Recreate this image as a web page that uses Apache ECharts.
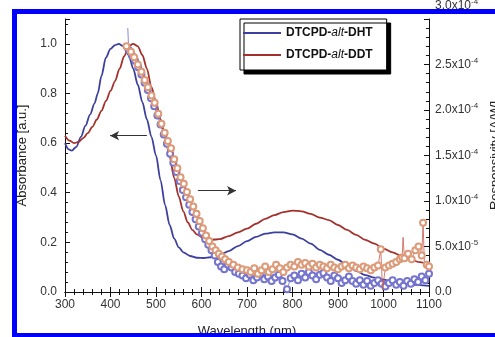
<!DOCTYPE html>
<html><head><meta charset="utf-8">
<script src="https://cdn.jsdelivr.net/npm/echarts@6/dist/echarts.min.js"></script>
<style>html,body{margin:0;padding:0;background:#fff}#c{width:495px;height:337px}</style>
</head><body><div id="c"></div>
<script>
// ---- data ----
const seriesNames = ['DTCPD-alt-DHT', 'DTCPD-alt-DDT'];
const xTickLabels = ['300','400','500','600','700','800','900','1000','1100'];
const leftTickLabels = ['0.0','0.2','0.4','0.6','0.8','1.0'];
const rightTickLabels = [['0.0',''],['5.0x10','-5'],['1.0x10','-4'],['1.5x10','-4'],['2.0x10','-4'],['2.5x10','-4'],['3.0x10','-4']];

// absorbance (normalized), [wavelength nm, value]
const absDHT = [[300,0.60],[308,0.575],[315,0.57],[325,0.585],[335,0.625],[345,0.67],[355,0.715],[365,0.76],[372,0.80],[380,0.87],[390,0.945],[400,0.98],[410,0.995],[418,1.0],[428,0.99],[440,0.955],[450,0.90],[460,0.835],[470,0.765],[480,0.695],[490,0.625],[500,0.55],[510,0.45],[520,0.35],[530,0.27],[540,0.215],[550,0.18],[560,0.16],[575,0.145],[590,0.138],[605,0.137],[620,0.14],[640,0.15],[660,0.165],[680,0.185],[700,0.205],[720,0.222],[740,0.235],[760,0.24],[780,0.24],[800,0.232],[820,0.215],[840,0.195],[860,0.17],[880,0.15],[900,0.13],[920,0.108],[940,0.085],[960,0.068],[980,0.058],[1000,0.05],[1020,0.04],[1040,0.035],[1060,0.03],[1080,0.028],[1100,0.025]];
const absDDT = [[300,0.63],[310,0.61],[320,0.60],[330,0.605],[340,0.62],[350,0.64],[360,0.665],[370,0.695],[380,0.73],[390,0.77],[400,0.81],[410,0.85],[420,0.90],[430,0.95],[440,0.99],[450,1.0],[460,0.99],[470,0.955],[480,0.90],[490,0.825],[500,0.765],[510,0.695],[520,0.625],[530,0.545],[540,0.46],[550,0.385],[560,0.325],[570,0.28],[580,0.25],[590,0.232],[605,0.216],[620,0.21],[640,0.213],[660,0.225],[680,0.24],[700,0.255],[720,0.275],[740,0.295],[760,0.31],[780,0.322],[800,0.328],[820,0.325],[840,0.315],[860,0.30],[880,0.29],[900,0.27],[920,0.25],[940,0.23],[960,0.21],[980,0.195],[1000,0.175],[1020,0.16],[1040,0.145],[1060,0.13],[1080,0.12],[1100,0.11]];

// responsivity in units of 1e-4 A/W, [wavelength nm, value, hasSymbol]
const respDHT = [[438,2.90,0],[440,2.66,1],[447,2.60,1],[454,2.54,1],[461,2.47,1],[468,2.39,1],[475,2.30,1],[482,2.22,1],[489,2.13,1],[496,2.04,1],[503,1.94,1],[510,1.84,1],[517,1.73,1],[524,1.63,1],[531,1.52,1],[538,1.42,1],[545,1.32,1],[552,1.22,1],[559,1.12,1],[566,1.04,1],[573,0.96,1],[580,0.88,1],[587,0.80,1],[594,0.72,1],[601,0.65,1],[608,0.58,1],[615,0.52,1],[622,0.46,1],[629,0.40,1],[636,0.33,1],[643,0.28,1],[650,0.25,1],[658,0.30,1],[666,0.27,1],[674,0.22,1],[682,0.20,1],[690,0.18,1],[698,0.15,1],[706,0.19,1],[714,0.13,1],[722,0.16,1],[730,0.20,1],[738,0.14,1],[746,0.17,1],[754,0.12,1],[762,0.16,1],[770,0.19,1],[778,0.12,1],[788,0.03,1],[796,0.15,1],[804,0.18,1],[812,0.13,1],[820,0.20,1],[828,0.16,1],[836,0.22,1],[844,0.18,1],[852,0.14,1],[860,0.19,1],[868,0.21,1],[876,0.16,1],[884,0.12,1],[892,0.18,1],[900,0.15,1],[908,0.10,1],[916,0.13,1],[924,0.17,1],[932,0.12,1],[940,0.09,1],[948,0.13,1],[956,0.08,1],[964,0.12,1],[972,0.07,1],[980,0.10,1],[988,0.13,1],[996,0.09,1],[1004,0.06,1],[1012,0.10,1],[1020,0.13,1],[1028,0.08,1],[1036,0.11,1],[1044,0.07,1],[1052,0.12,1],[1060,0.09,1],[1068,0.14,1],[1076,0.11,1],[1084,0.17,1],[1092,0.13,1],[1100,0.20,1]];
const respDDT = [[435,2.70,1],[445,2.64,1],[452,2.58,1],[460,2.50,1],[468,2.42,1],[475,2.33,1],[482,2.25,1],[490,2.16,1],[497,2.08,1],[505,1.96,1],[512,1.85,1],[519,1.75,1],[526,1.66,1],[533,1.58,1],[540,1.46,1],[547,1.36,1],[554,1.26,1],[561,1.19,1],[568,1.10,1],[575,1.02,1],[582,0.94,1],[589,0.86,1],[596,0.78,1],[603,0.70,1],[610,0.62,1],[617,0.56,1],[624,0.50,1],[631,0.46,1],[638,0.42,1],[645,0.39,1],[652,0.36,1],[660,0.33,1],[670,0.30,1],[680,0.27,1],[690,0.25,1],[700,0.24,1],[708,0.22,1],[716,0.26,1],[724,0.20,1],[732,0.24,1],[740,0.28,1],[748,0.22,1],[756,0.25,1],[764,0.30,1],[772,0.26,1],[780,0.22,1],[788,0.27,1],[796,0.30,1],[804,0.28,1],[812,0.33,1],[820,0.30,1],[828,0.32,1],[836,0.28,1],[844,0.31,1],[852,0.27,1],[860,0.30,1],[868,0.28,1],[876,0.26,1],[884,0.30,1],[892,0.27,1],[900,0.25,1],[908,0.28,1],[916,0.30,1],[924,0.26,1],[932,0.29,1],[940,0.27,1],[948,0.25,1],[956,0.28,1],[964,0.26,1],[972,0.24,1],[980,0.27,1],[988,0.29,1],[994,0.47,1],[998,0.02,0],[1004,0.27,1],[1012,0.29,1],[1020,0.31,1],[1028,0.33,1],[1036,0.36,1],[1041,0.38,1],[1043,0.60,0],[1046,0.37,1],[1054,0.42,1],[1062,0.36,1],[1070,0.46,1],[1077,0.50,1],[1084,0.40,1],[1087,0.76,1],[1090,0.30,0],[1095,0.30,1],[1100,0.28,1]];

// arrows in data coords: [from, to] on absorbance axis
const arrowLeft = [[480,0.63],[399,0.63]];
const arrowRight = [[592,0.408],[676,0.408]];

// ---- chart ----
const chart = echarts.init(document.getElementById('c'), null, {renderer:'canvas'});
const FONT = '"Liberation Sans", Arial, sans-serif';
const axisCol = '#111';
function pts(arr){ return arr.map(p => p[2] === 0 ? {value:[p[0],p[1]], symbol:'none'} : [p[0],p[1]]); }
const legendRich = {
  b:{fontFamily:FONT,fontWeight:'bold',fontSize:12,color:'#111'},
  i:{fontFamily:FONT,fontStyle:'italic',fontSize:12,color:'#111'}
};
const option = {
  animation:false,
  backgroundColor:'#fff',
  grid:{left:65,right:66,top:19,bottom:45,show:false,containLabel:false,outerBoundsMode:'none'},
  legend:{
    data:seriesNames, left:240, top:19, orient:'vertical', itemWidth:38, itemHeight:2, itemGap:10,
    padding:[8,14,9,3], borderColor:'#000', borderWidth:1, backgroundColor:'#fff',
    shadowColor:'#000', shadowBlur:0, shadowOffsetX:4, shadowOffsetY:4,
    icon:'rect',
    formatter: n => { const p = n.split('-'); return '{b|'+p[0]+'-}{i|'+p[1]+'}{b|-'+p[2]+'}'; },
    textStyle:{rich:legendRich}
  },
  xAxis:[{
    type:'value', min:300, max:1100, interval:100, position:'bottom',
    name:'Wavelength (nm)', nameLocation:'middle', nameGap:33,
    nameTextStyle:{fontFamily:FONT,fontSize:13,color:'#222'},
    axisLine:{lineStyle:{color:axisCol,width:1}},
    axisTick:{inside:true,length:5,lineStyle:{color:axisCol}},
    minorTick:{show:true,splitNumber:5,length:3,lineStyle:{color:axisCol}},
    splitLine:{show:false},
    axisLabel:{fontFamily:FONT,fontSize:12,color:'#333',margin:7,
      formatter:v=>{const i=(v-300)/100; return Number.isInteger(i)?xTickLabels[i]:'';}}
  },{
    type:'value', min:300, max:1100, interval:100, position:'top',
    axisLine:{show:true,lineStyle:{color:axisCol,width:1}},
    axisTick:{inside:true,length:5,lineStyle:{color:axisCol}},
    minorTick:{show:true,splitNumber:5,length:3,lineStyle:{color:axisCol}},
    splitLine:{show:false}, axisLabel:{show:false}
  }],
  yAxis:[{
    type:'value', min:0, max:1.1, interval:0.2, position:'left',
    name:'Absorbance [a.u.]', nameLocation:'middle', nameGap:36,
    nameTextStyle:{fontFamily:FONT,fontSize:13,color:'#222'},
    axisLine:{show:true,lineStyle:{color:axisCol,width:1}},
    axisTick:{inside:true,length:5,lineStyle:{color:axisCol}},
    minorTick:{show:true,splitNumber:5,length:3,lineStyle:{color:axisCol}},
    splitLine:{show:false},
    axisLabel:{fontFamily:FONT,fontSize:12,color:'#333',margin:8,showMaxLabel:false,
      formatter:v=>{const i=Math.round(v/0.2); return Math.abs(v-i*0.2)<1e-6?leftTickLabels[i]:'';}}
  },{
    type:'value', min:0, max:3, interval:0.5, position:'right',
    name:'Responsivity [A/W]', nameLocation:'middle', nameGap:56,
    nameTextStyle:{fontFamily:FONT,fontSize:13,color:'#222'},
    axisLine:{show:true,lineStyle:{color:axisCol,width:1}},
    axisTick:{inside:true,length:5,lineStyle:{color:axisCol}},
    minorTick:{show:true,splitNumber:5,length:3,lineStyle:{color:axisCol}},
    splitLine:{show:false},
    axisLabel:{fontFamily:FONT,fontSize:12,color:'#333',margin:6,
      formatter:v=>{const i=Math.round(v/0.5); const t=rightTickLabels[i]; if(!t) return '';
        if(!t[1]) return '{m|'+t[0]+'}';
        return (i===6?'{mt|':'{m|')+t[0]+'}'+(i===6?'{st|':'{s|')+t[1]+'}';},
      rich:{
        m:{fontFamily:FONT,fontSize:12,color:'#333'},
        s:{fontFamily:FONT,fontSize:8,color:'#333',padding:[0,0,8,0]},
        mt:{fontFamily:FONT,fontSize:12,color:'#333',padding:[0,0,26,0]},
        st:{fontFamily:FONT,fontSize:8,color:'#333',padding:[0,0,34,0]}
      }}
  }],
  series:[
    {name:seriesNames[0], type:'line', xAxisIndex:0, yAxisIndex:0, data:absDHT, smooth:0.3, smoothMonotone:'x', showSymbol:false, symbol:'none',
     lineStyle:{color:'#3c3f9e',width:1.8}, itemStyle:{color:'#3c3f9e'}, z:3,
     markLine:{silent:true, symbol:['none','arrow'], symbolSize:[7,9], label:{show:false},
       lineStyle:{color:'#333',width:1.2,type:'solid'},
       data:[[{coord:arrowLeft[0]},{coord:arrowLeft[1]}],[{coord:arrowRight[0]},{coord:arrowRight[1]}]]}},
    {name:seriesNames[1], type:'line', xAxisIndex:0, yAxisIndex:0, data:absDDT, smooth:0.3, smoothMonotone:'x', showSymbol:false, symbol:'none',
     lineStyle:{color:'#a5302b',width:1.8}, itemStyle:{color:'#a5302b'}, z:3},
    {name:'resp-DHT', type:'line', xAxisIndex:0, yAxisIndex:1, data:pts(respDHT), symbol:'emptyCircle', symbolSize:6, showAllSymbol:true,
     lineStyle:{color:'#6a6ac8',width:0.8}, itemStyle:{color:'#7575cf',borderWidth:1}, z:4},
    {name:'resp-DDT', type:'line', xAxisIndex:0, yAxisIndex:1, data:pts(respDDT), symbol:'emptyCircle', symbolSize:6, showAllSymbol:true,
     lineStyle:{color:'#c85a4c',width:0.8}, itemStyle:{color:'#dc9a78',borderWidth:1}, z:5}
  ],
  graphic:[
    {type:'rect', z:100, shape:{x:12,y:9,width:483,height:5}, style:{fill:'#0000ff'}},
    {type:'rect', z:100, shape:{x:12,y:9,width:5,height:328}, style:{fill:'#0000ff'}},
    {type:'rect', z:100, shape:{x:12,y:333,width:483,height:4}, style:{fill:'#0000ff'}}
  ]
};
chart.setOption(option);
</script></body></html>
